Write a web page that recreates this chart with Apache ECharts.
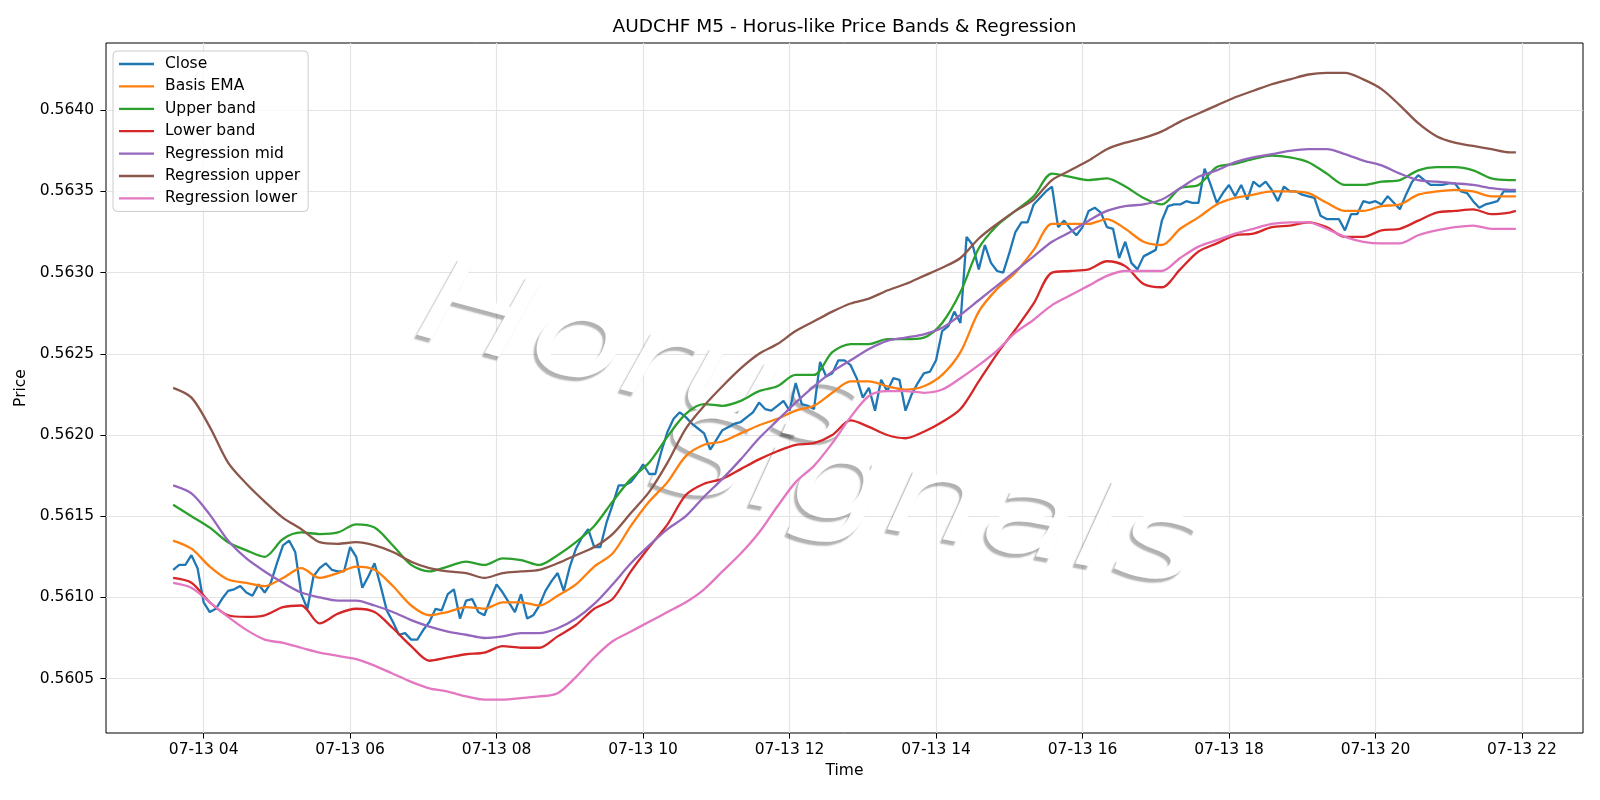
<!DOCTYPE html>
<html>
<head>
<meta charset="utf-8">
<title>AUDCHF M5 - Horus-like Price Bands & Regression</title>
<script src="https://cdn.jsdelivr.net/npm/echarts@6/dist/echarts.min.js"></script>
<style>
  html, body { margin: 0; padding: 0; background: #fff; }
  #chart { width: 1600px; height: 800px; }
</style>
</head>
<body>
<div id="chart"></div>
<script>
// time grid: 07-13 03:35 .. 21:55, every 5 minutes (minutes from midnight)
const startMinute = 215;
const stepMinutes = 5;

// x ticks (minutes) and y ticks (price)
const xTicks = [240, 360, 480, 600, 720, 840, 960, 1080, 1200, 1320];
const yTicks = [0.5605, 0.5610, 0.5615, 0.5620, 0.5625, 0.5630, 0.5635, 0.5640];

// Close, one value per 5-minute bar
const closeVals = [
  0.56117, 0.56120, 0.56120, 0.56126, 0.56118, 0.56097, 0.56091, 0.56093, 0.56099, 0.56104,
  0.56105, 0.56107, 0.56103, 0.56101, 0.56108, 0.56103, 0.56109, 0.56121, 0.56132, 0.56135,
  0.56128, 0.56102, 0.56093, 0.56113, 0.56118, 0.56121, 0.56117, 0.56116, 0.56116, 0.56131,
  0.56125, 0.56106, 0.56113, 0.56121, 0.56107, 0.56092, 0.56085, 0.56077, 0.56078, 0.56074,
  0.56074, 0.56080, 0.56085, 0.56093, 0.56092, 0.56102, 0.56105, 0.56087, 0.56098, 0.56099,
  0.56091, 0.56089, 0.56099, 0.56108, 0.56103, 0.56097, 0.56091, 0.56102, 0.56087, 0.56089,
  0.56095, 0.56104, 0.56110, 0.56115, 0.56104, 0.56119, 0.56130, 0.56137, 0.56142, 0.56131,
  0.56131, 0.56146, 0.56157, 0.56169, 0.56169, 0.56171, 0.56176, 0.56182, 0.56176, 0.56176,
  0.56190, 0.56202, 0.56210, 0.56214, 0.56211, 0.56207, 0.56204, 0.56201, 0.56191, 0.56197,
  0.56203, 0.56205, 0.56207, 0.56208, 0.56211, 0.56214, 0.56220, 0.56216, 0.56215, 0.56218,
  0.56221, 0.56215, 0.56232, 0.56219, 0.56218, 0.56216, 0.56245, 0.56236, 0.56238, 0.56246,
  0.56246, 0.56243, 0.56235, 0.56223, 0.56229, 0.56215, 0.56234, 0.56227, 0.56235, 0.56234,
  0.56215, 0.56225, 0.56232, 0.56238, 0.56239, 0.56246, 0.56264, 0.56267, 0.56276, 0.56269,
  0.56322, 0.56317, 0.56302, 0.56317, 0.56306, 0.56301, 0.56300, 0.56312, 0.56325, 0.56331,
  0.56331, 0.56342, 0.56346, 0.56350, 0.56353, 0.56328, 0.56332, 0.56327, 0.56323, 0.56328,
  0.56338, 0.56340, 0.56337, 0.56328, 0.56327, 0.56309, 0.56319, 0.56306, 0.56302, 0.56310,
  0.56312, 0.56314, 0.56332, 0.56341, 0.56342, 0.56342, 0.56344, 0.56343, 0.56343, 0.56364,
  0.56354, 0.56343, 0.56349, 0.56354, 0.56347, 0.56354, 0.56345, 0.56356, 0.56353, 0.56356,
  0.56351, 0.56344, 0.56353, 0.56350, 0.56350, 0.56348, 0.56347, 0.56346, 0.56335, 0.56333,
  0.56333, 0.56333, 0.56326, 0.56336, 0.56336, 0.56344, 0.56343, 0.56344, 0.56342, 0.56347,
  0.56343, 0.56339, 0.56348, 0.56356, 0.56360, 0.56357, 0.56354, 0.56354, 0.56354, 0.56355,
  0.56355, 0.56350, 0.56349, 0.56344, 0.56340, 0.56342, 0.56343, 0.56344, 0.56350, 0.56350,
  0.56350
];

// the smoother lines, read every 15 minutes (bar 0,3,6,...,219) plus the last bar
const basisVals = [
  0.56135, 0.56130, 0.56119, 0.56111, 0.56109, 0.56107, 0.56112, 0.56118, 0.56112, 0.56115,
  0.56119, 0.56117, 0.56107, 0.56095, 0.56089, 0.56091, 0.56094, 0.56093, 0.56097, 0.56097,
  0.56095, 0.56101, 0.56108, 0.56119, 0.56127, 0.56144, 0.56159, 0.56171, 0.56187, 0.56194,
  0.56196, 0.56201, 0.56206, 0.56210, 0.56215, 0.56218, 0.56226, 0.56233, 0.56233, 0.56230,
  0.56228, 0.56230, 0.56237, 0.56251, 0.56276, 0.56290, 0.56300, 0.56314, 0.56330, 0.56330,
  0.56330, 0.56333, 0.56327, 0.56319, 0.56317, 0.56327, 0.56334, 0.56342, 0.56346, 0.56348,
  0.56350, 0.56350, 0.56349, 0.56343, 0.56338, 0.56338, 0.56341, 0.56342, 0.56348, 0.56350,
  0.56351, 0.56350, 0.56347, 0.56347, 0.56347
];
const upperVals = [
  0.56157, 0.56150, 0.56143, 0.56134, 0.56129, 0.56125, 0.56136, 0.56140, 0.56139, 0.56140,
  0.56145, 0.56143, 0.56132, 0.56120, 0.56116, 0.56119, 0.56122, 0.56120, 0.56124, 0.56123,
  0.56120, 0.56126, 0.56134, 0.56144, 0.56159, 0.56173, 0.56183, 0.56199, 0.56213, 0.56219,
  0.56218, 0.56221, 0.56227, 0.56230, 0.56237, 0.56237, 0.56251, 0.56256, 0.56256, 0.56259,
  0.56259, 0.56260, 0.56269, 0.56288, 0.56315, 0.56329, 0.56338, 0.56347, 0.56361, 0.56359,
  0.56357, 0.56358, 0.56353, 0.56346, 0.56342, 0.56352, 0.56354, 0.56365, 0.56367, 0.56370,
  0.56372, 0.56371, 0.56368, 0.56361, 0.56354, 0.56354, 0.56356, 0.56357, 0.56363, 0.56365,
  0.56365, 0.56363, 0.56358, 0.56357, 0.56357
];
const lowerVals = [
  0.56112, 0.56109, 0.56097, 0.56089, 0.56088, 0.56089, 0.56094, 0.56095, 0.56084, 0.56090,
  0.56093, 0.56091, 0.56081, 0.56070, 0.56061, 0.56063, 0.56065, 0.56066, 0.56070, 0.56069,
  0.56069, 0.56076, 0.56083, 0.56093, 0.56099, 0.56116, 0.56131, 0.56145, 0.56163, 0.56170,
  0.56173, 0.56179, 0.56185, 0.56190, 0.56194, 0.56195, 0.56200, 0.56209, 0.56205, 0.56200,
  0.56198, 0.56202, 0.56208, 0.56216, 0.56233, 0.56250, 0.56265, 0.56281, 0.56300, 0.56301,
  0.56302, 0.56307, 0.56304, 0.56293, 0.56291, 0.56302, 0.56313, 0.56318, 0.56323, 0.56324,
  0.56328, 0.56329, 0.56331, 0.56328, 0.56322, 0.56322, 0.56326, 0.56327, 0.56332, 0.56337,
  0.56338, 0.56339, 0.56336, 0.56337, 0.56338
];
const regMidVals = [
  0.56169, 0.56164, 0.56151, 0.56135, 0.56124, 0.56116, 0.56109, 0.56103, 0.56100, 0.56098,
  0.56098, 0.56095, 0.56091, 0.56086, 0.56082, 0.56079, 0.56077, 0.56075, 0.56076, 0.56078,
  0.56078, 0.56081, 0.56087, 0.56096, 0.56108, 0.56121, 0.56132, 0.56142, 0.56150, 0.56162,
  0.56173, 0.56185, 0.56198, 0.56209, 0.56220, 0.56230, 0.56239, 0.56246, 0.56253, 0.56258,
  0.56260, 0.56262, 0.56266, 0.56274, 0.56283, 0.56292, 0.56301, 0.56310, 0.56319, 0.56325,
  0.56332, 0.56338, 0.56341, 0.56342, 0.56345, 0.56352, 0.56359, 0.56363, 0.56368, 0.56371,
  0.56373, 0.56375, 0.56376, 0.56376, 0.56373, 0.56369, 0.56366, 0.56361, 0.56357, 0.56356,
  0.56355, 0.56354, 0.56352, 0.56351, 0.56351
];
const regUpperVals = [
  0.56229, 0.56223, 0.56205, 0.56183, 0.56170, 0.56159, 0.56149, 0.56142, 0.56134, 0.56133,
  0.56134, 0.56132, 0.56128, 0.56122, 0.56118, 0.56116, 0.56115, 0.56112, 0.56115, 0.56116,
  0.56117, 0.56121, 0.56126, 0.56131, 0.56139, 0.56152, 0.56165, 0.56183, 0.56204, 0.56218,
  0.56230, 0.56241, 0.56250, 0.56256, 0.56264, 0.56270, 0.56276, 0.56281, 0.56284, 0.56289,
  0.56293, 0.56298, 0.56303, 0.56309, 0.56321, 0.56330, 0.56338, 0.56345, 0.56357, 0.56363,
  0.56369, 0.56376, 0.56380, 0.56383, 0.56387, 0.56393, 0.56398, 0.56403, 0.56408, 0.56412,
  0.56416, 0.56419, 0.56422, 0.56423, 0.56423, 0.56419, 0.56413, 0.56403, 0.56392, 0.56384,
  0.56380, 0.56378, 0.56376, 0.56374, 0.56374
];
const regLowerVals = [
  0.56109, 0.56106, 0.56097, 0.56088, 0.56080, 0.56074, 0.56072, 0.56069, 0.56066, 0.56064,
  0.56062, 0.56058, 0.56053, 0.56048, 0.56044, 0.56042, 0.56039, 0.56037, 0.56037, 0.56038,
  0.56039, 0.56041, 0.56051, 0.56063, 0.56073, 0.56079, 0.56085, 0.56091, 0.56097, 0.56105,
  0.56116, 0.56127, 0.56140, 0.56156, 0.56171, 0.56181, 0.56195, 0.56211, 0.56224, 0.56227,
  0.56227, 0.56226, 0.56228, 0.56235, 0.56243, 0.56252, 0.56263, 0.56271, 0.56280, 0.56286,
  0.56292, 0.56298, 0.56301, 0.56301, 0.56301, 0.56309, 0.56316, 0.56320, 0.56324, 0.56327,
  0.56330, 0.56331, 0.56331, 0.56327, 0.56322, 0.56319, 0.56318, 0.56318, 0.56323, 0.56326,
  0.56328, 0.56329, 0.56327, 0.56327, 0.56327
];

const barMinute = i => startMinute + stepMinutes * i;
const smoothBars = [];
for (let k = 0; k < 74; k++) smoothBars.push(3 * k);
smoothBars.push(closeVals.length - 1);

const pad2 = n => (n < 10 ? '0' : '') + n;
const font = 'DejaVu Sans';

function makeLine(name, color, pts) {
  return {
    name: name,
    type: 'line',
    data: pts,
    symbol: 'none',
    smooth: pts.length < 100 ? 0.3 : false,
    lineStyle: { color: color, width: 2.3 },
    itemStyle: { color: color },
    emphasis: { disabled: true }
  };
}
const smoothPts = vals => smoothBars.map((b, j) => [barMinute(b), vals[j]]);

// watermark word: white letters with a soft grey shadow
function markWord(text, x, y, rot) {
  return {
    type: 'text', x: x, y: y, rotation: rot, scaleX: 1.3, z: 1, silent: true,
    style: {
      text: text, font: 'italic 118px "DejaVu Sans"', fill: '#ffffff',
      align: 'center', verticalAlign: 'middle',
      textShadowColor: 'rgba(0,0,0,0.3)', textShadowBlur: 1.5,
      textShadowOffsetX: -3, textShadowOffsetY: 4
    }
  };
}

const myChart = echarts.init(document.getElementById('chart'));
const option = {
  animation: false,
  backgroundColor: '#fff',
  textStyle: { fontFamily: font },
  title: {
    text: 'AUDCHF M5 - Horus-like Price Bands & Regression',
    left: 844.5,
    top: 18,
    padding: 0,
    textAlign: 'center',
    textStyle: { fontFamily: font, fontSize: 18.5, fontWeight: 'normal', color: '#000' }
  },
  grid: {
    left: 106, right: 17, top: 43, bottom: 67,
    show: true, borderColor: '#000', borderWidth: 1, backgroundColor: 'transparent'
  },
  legend: {
    orient: 'vertical',
    left: 113,
    top: 51,
    padding: [5, 8, 5, 6],
    itemWidth: 35,
    itemHeight: 14,
    itemGap: 6.4,
    icon: 'path://M0,0 L35,0 L35,2.3 L0,2.3 Z',
    symbolKeepAspect: true,
    backgroundColor: 'rgba(255,255,255,0.8)',
    borderColor: '#cccccc',
    borderWidth: 1,
    borderRadius: 4,
    textStyle: { fontFamily: font, fontSize: 15.5, color: '#000', lineHeight: 14, padding: [0, 0, 0, 6] }
  },
  xAxis: {
    type: 'value',
    min: 160,
    max: 1370,
    name: 'Time',
    nameLocation: 'middle',
    nameGap: 29,
    nameTextStyle: { fontFamily: font, fontSize: 15.5, color: '#000' },
    axisLine: { show: false },
    axisTick: { show: true, length: 5.6, customValues: xTicks, lineStyle: { color: '#000', width: 1 } },
    axisLabel: {
      customValues: xTicks, margin: 9, color: '#000', fontFamily: font, fontSize: 15.5,
      formatter: v => '07-13 ' + pad2(Math.round(v / 60))
    },
    splitLine: { show: true, lineStyle: { color: '#e4e4e4', width: 1.2 } }
  },
  yAxis: {
    type: 'value',
    min: 0.560165,
    max: 0.564414,
    name: 'Price',
    nameLocation: 'middle',
    nameRotate: 90,
    nameGap: 66,
    nameTextStyle: { fontFamily: font, fontSize: 15.5, color: '#000' },
    axisLine: { show: false },
    axisTick: { show: true, length: 5.6, customValues: yTicks, lineStyle: { color: '#000', width: 1 } },
    axisLabel: {
      customValues: yTicks, margin: 12, color: '#000', fontFamily: font, fontSize: 15.5,
      formatter: v => v.toFixed(4)
    },
    splitLine: { show: true, lineStyle: { color: '#e4e4e4', width: 1.2 } }
  },
  graphic: [
    markWord('Horus', 638, 362, -0.26),
    markWord('Signals', 925, 505, -0.18)
  ],
  series: [
    makeLine('Close', '#1f77b4', closeVals.map((v, i) => [barMinute(i), v])),
    makeLine('Basis EMA', '#ff7f0e', smoothPts(basisVals)),
    makeLine('Upper band', '#2ca02c', smoothPts(upperVals)),
    makeLine('Lower band', '#d62728', smoothPts(lowerVals)),
    makeLine('Regression mid', '#9467bd', smoothPts(regMidVals)),
    makeLine('Regression upper', '#8c564b', smoothPts(regUpperVals)),
    makeLine('Regression lower', '#e377c2', smoothPts(regLowerVals))
  ]
};
myChart.setOption(option);
</script>
</body>
</html>
